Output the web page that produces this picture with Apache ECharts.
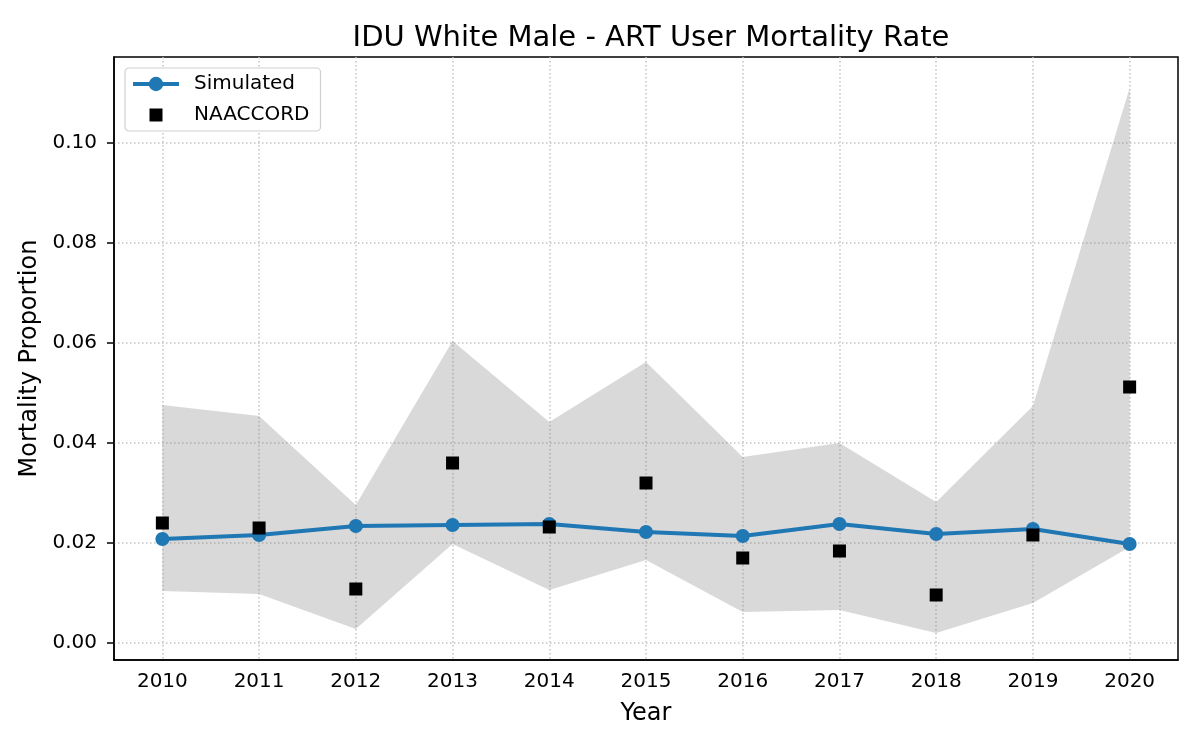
<!DOCTYPE html>
<html>
<head>
<meta charset="utf-8">
<script src="https://cdn.jsdelivr.net/npm/echarts@6/dist/echarts.min.js"></script>
<style>
  html, body { margin: 0; padding: 0; background: #fff; }
  #chart { width: 1200px; height: 750px; }
</style>
</head>
<body>
<div id="chart"></div>
<script>
// data
const years = ["2010", "2011", "2012", "2013", "2014", "2015", "2016", "2017", "2018", "2019", "2020"];
const simulated = [0.0208, 0.0216, 0.0234, 0.0236, 0.0238, 0.0222, 0.0214, 0.0238, 0.0218, 0.0228, 0.0198];
const naaccord = [0.0240, 0.0230, 0.0108, 0.0360, 0.0232, 0.0320, 0.0170, 0.0184, 0.0096, 0.0216, 0.0512];
const bandLower = [0.0104, 0.0098, 0.0028, 0.0198, 0.0106, 0.0166, 0.0062, 0.0066, 0.0020, 0.0080, 0.0192];
const bandUpper = [0.0476, 0.0454, 0.0276, 0.0604, 0.0442, 0.0562, 0.0372, 0.0400, 0.0282, 0.0474, 0.1110];
const yTicks = [0, 0.02, 0.04, 0.06, 0.08, 0.10];

const font = "DejaVu Sans";
const gridLine = { color: "#c4c4c4", width: 1.5, type: [1.5, 2.5] };

let chart = echarts.init(document.getElementById("chart"));

// band is drawn as a stack: transparent lower part + gray height part
let bandHeight = bandUpper.map((u, i) => u - bandLower[i]);

let option = {
  animation: false,
  backgroundColor: "#fff",
  textStyle: { fontFamily: font },
  title: {
    text: "IDU White Male - ART User Mortality Rate",
    left: 646,
    textAlign: "center",
    top: 19,
    textStyle: { fontFamily: font, fontSize: 29, fontWeight: "normal", color: "#000" }
  },
  grid: {
    left: 114, right: 22, top: 57, bottom: 90,
    show: true, borderColor: "#000", borderWidth: 1.5
  },
  legend: {
    left: 125, top: 68,
    orient: "vertical",
    padding: [6, 11, 6, 6],
    itemWidth: 46, itemHeight: 18, itemGap: 11,
    backgroundColor: "#fff",
    borderColor: "#d0d0d0", borderWidth: 1.2, borderRadius: 4,
    textStyle: { fontFamily: font, fontSize: 20, color: "#000", padding: [0, 0, 0, 10] },
    data: [
      { name: "Simulated", lineStyle: { width: 4 } },
      // moveTo points pad the square so it draws smaller than the icon box
      { name: "NAACCORD", icon: "path://M0,0M18,18M2.5,2.5L15.5,2.5L15.5,15.5L2.5,15.5Z", itemStyle: { opacity: 1 } }
    ]
  },
  xAxis: {
    type: "category",
    data: years,
    boundaryGap: true,
    name: "Year",
    nameLocation: "middle",
    nameGap: 42,
    nameTextStyle: { fontFamily: font, fontSize: 24, color: "#000" },
    axisLine: { onZero: false, lineStyle: { color: "#000", width: 1.5 } },
    axisTick: { alignWithLabel: true, length: 7, lineStyle: { color: "#000", width: 1.5 } },
    axisLabel: { fontFamily: font, fontSize: 20, color: "#000", margin: 12 },
    splitLine: { show: true, alignWithLabel: true, lineStyle: gridLine }
  },
  yAxis: {
    type: "value",
    min: -0.0034,
    max: 0.1172,
    name: "Mortality Proportion",
    nameLocation: "middle",
    nameGap: 62,
    nameTextStyle: { fontFamily: font, fontSize: 24, color: "#000" },
    axisLine: { show: true, lineStyle: { color: "#000", width: 1.5 } },
    axisTick: { show: true, length: 7, customValues: yTicks, lineStyle: { color: "#000", width: 1.5 } },
    axisLabel: {
      fontFamily: font, fontSize: 20, color: "#000", margin: 17,
      customValues: yTicks,
      formatter: v => v.toFixed(2)
    },
    splitLine: { show: true, lineStyle: gridLine }
  },
  series: [
    {
      name: "lower",
      type: "line",
      stack: "band",
      data: bandLower,
      symbol: "none",
      silent: true,
      lineStyle: { opacity: 0 },
      z: 1
    },
    {
      name: "band",
      type: "line",
      stack: "band",
      data: bandHeight,
      symbol: "none",
      silent: true,
      lineStyle: { opacity: 0 },
      areaStyle: { color: "rgba(128,128,128,0.3)", opacity: 1 },
      z: 1
    },
    {
      name: "Simulated",
      type: "line",
      data: simulated,
      color: "#1f77b4",
      symbol: "circle",
      symbolSize: 14,
      lineStyle: { color: "#1f77b4", width: 4 },
      itemStyle: { color: "#1f77b4" },
      z: 3
    },
    {
      name: "NAACCORD",
      type: "scatter",
      data: naaccord,
      symbol: "rect",
      symbolSize: 13,
      itemStyle: { color: "#000", opacity: 1 },
      z: 4
    }
  ]
};

chart.setOption(option);

window.addEventListener("resize", () => {
  chart.resize();
});
</script>
</body>
</html>
